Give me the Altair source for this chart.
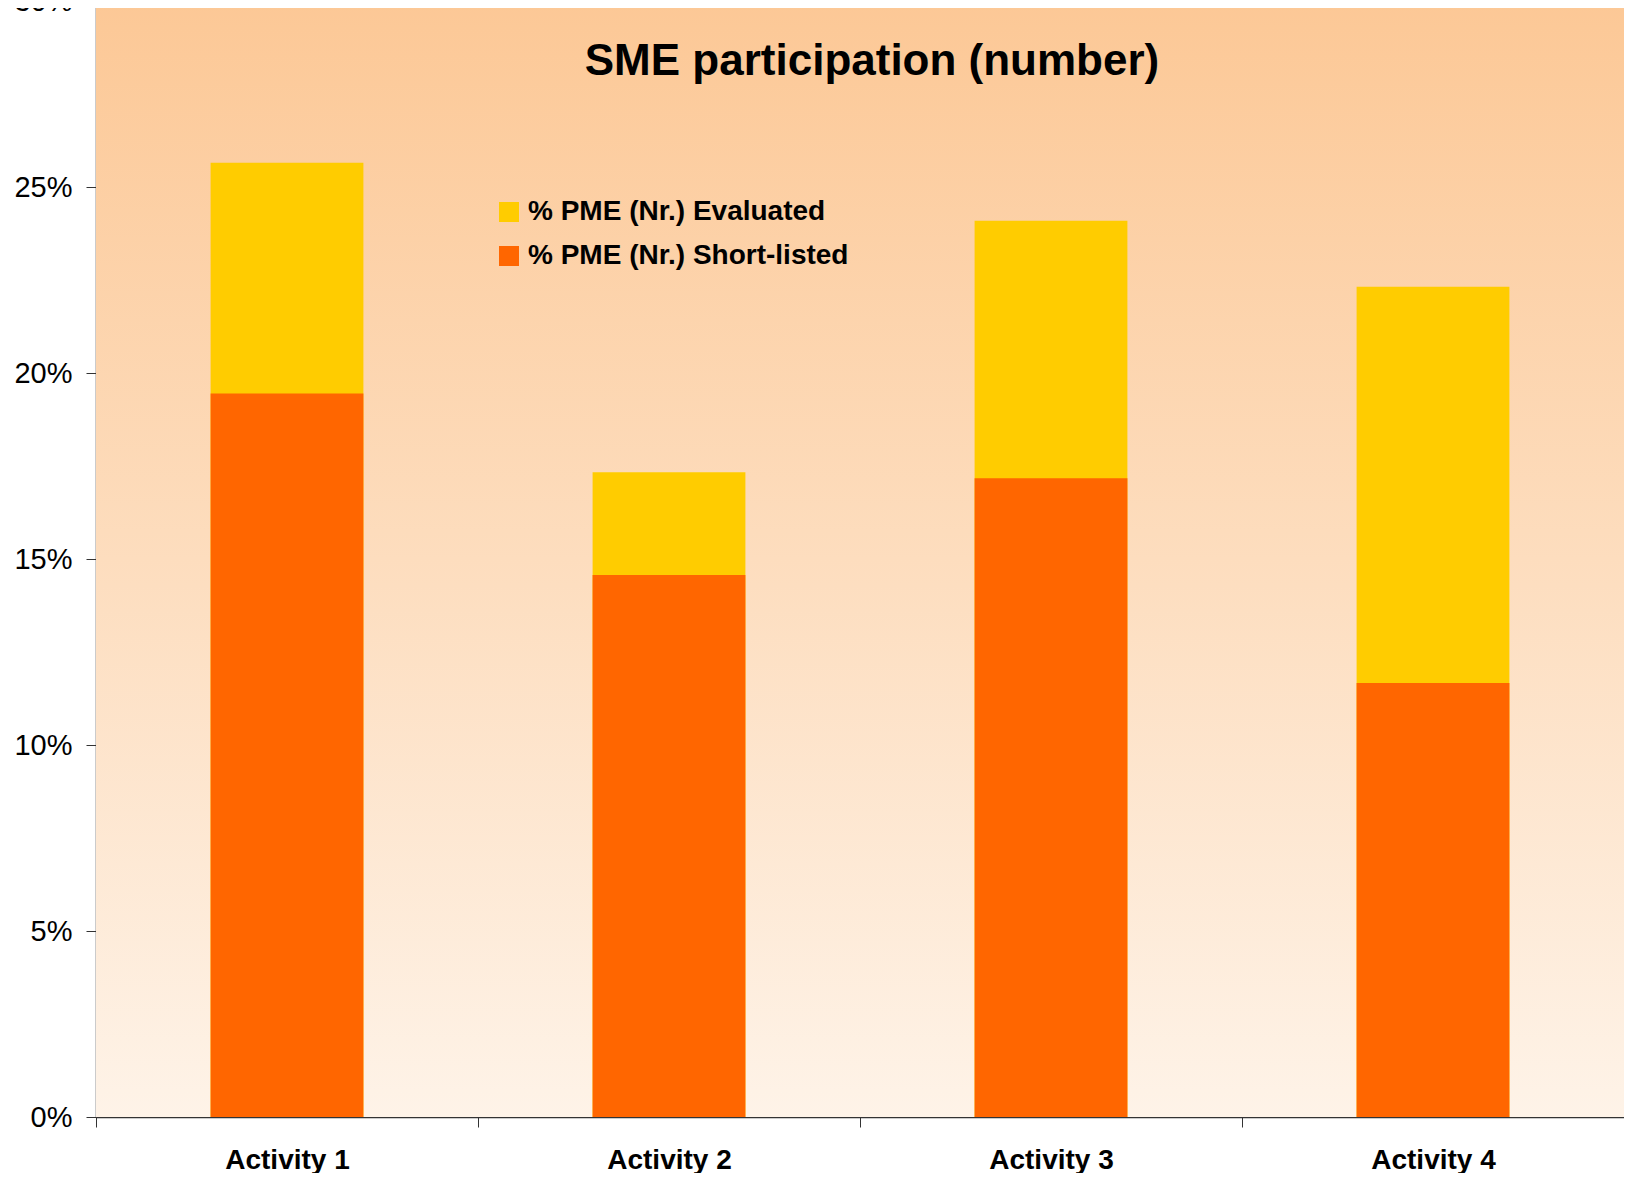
import altair as alt
import pandas as pd

activities = ["Activity 1", "Activity 2", "Activity 3", "Activity 4"]
series_names = ["% PME (Nr.) Evaluated", "% PME (Nr.) Short-listed"]
evaluated = [25.65, 17.33, 24.09, 22.32]
short_listed = [19.45, 14.57, 17.17, 11.67]
y_ticks = [0, 5, 10, 15, 20, 25, 30]
title_text = "SME participation (number)"

rows = []
for a, v in zip(activities, evaluated):
    rows.append({"activity": a, "series": series_names[0], "value": v})
for a, v in zip(activities, short_listed):
    rows.append({"activity": a, "series": series_names[1], "value": v})
df = pd.DataFrame(rows)

W, H = 1528, 1116
STEP = W / len(activities)
FONT = "Liberation Sans"

bg = alt.Chart(alt.Data(values=[{}])).mark_rect(
    fill=alt.Gradient(
        gradient="linear", x1=0, y1=0, x2=0, y2=1,
        stops=[alt.GradientStop(offset=0, color="#FCC896"),
               alt.GradientStop(offset=0.5, color="#FDDDBE"),
               alt.GradientStop(offset=1, color="#FEF3E8")],
    )
).encode(x=alt.value(0), x2=alt.value(W), y=alt.value(0), y2=alt.value(H))

bars = alt.Chart(df).mark_bar().encode(
    x=alt.X("activity:N", sort=activities,
            scale=alt.Scale(paddingInner=0.6, paddingOuter=0.3),
            axis=alt.Axis(title=None, labelAngle=0, labelFont=FONT, labelFontSize=28,
                          labelFontWeight="bold", labelColor="#000000",
                          tickOffset=-STEP / 2, labelOffset=STEP / 2,
                          tickSize=10, labelPadding=19,
                          domainColor="#333333", tickColor="#333333", domainWidth=1.5)),
    y=alt.Y("value:Q", stack=None, scale=alt.Scale(domain=[0, 30], nice=False),
            axis=alt.Axis(title=None, values=y_ticks, labelExpr="datum.value + '%'",
                          labelFont=FONT, labelFontSize=29, labelColor="#000000",
                          tickSize=10, labelPadding=14, grid=False,
                          domainColor="#333333", tickColor="#333333", domainWidth=1.5)),
    color=alt.Color("series:N", sort=series_names,
                    scale=alt.Scale(domain=series_names, range=["#FFCC00", "#FF6600"]),
                    legend=alt.Legend(title=None, orient="none", legendX=399, legendY=197,
                                      symbolType="square", symbolSize=400, symbolStrokeWidth=0,
                                      labelFont=FONT, labelFontSize=28, labelFontWeight="bold",
                                      labelColor="#000000", labelOffset=5, rowPadding=16,
                                      padding=0, labelLimit=600)),
    order=alt.Order("series:N", sort="ascending"),
)

title = alt.Chart(alt.Data(values=[{"t": title_text}])).mark_text(
    font=FONT, fontSize=44, fontWeight="bold", color="#000000",
    align="center", baseline="middle"
).encode(x=alt.value(776), y=alt.value(61), text="t:N")

chart = alt.layer(bg, bars, title).properties(
    width=W, height=H,
    autosize=alt.AutoSizeParams(type="none"),
    padding={"left": 88, "top": -7, "right": 0, "bottom": 56},
).configure_view(stroke="#8c8c8c", strokeWidth=1.5).configure(background="#ffffff")

chart.save("out.html", embed_options={"renderer": "svg", "actions": False})
